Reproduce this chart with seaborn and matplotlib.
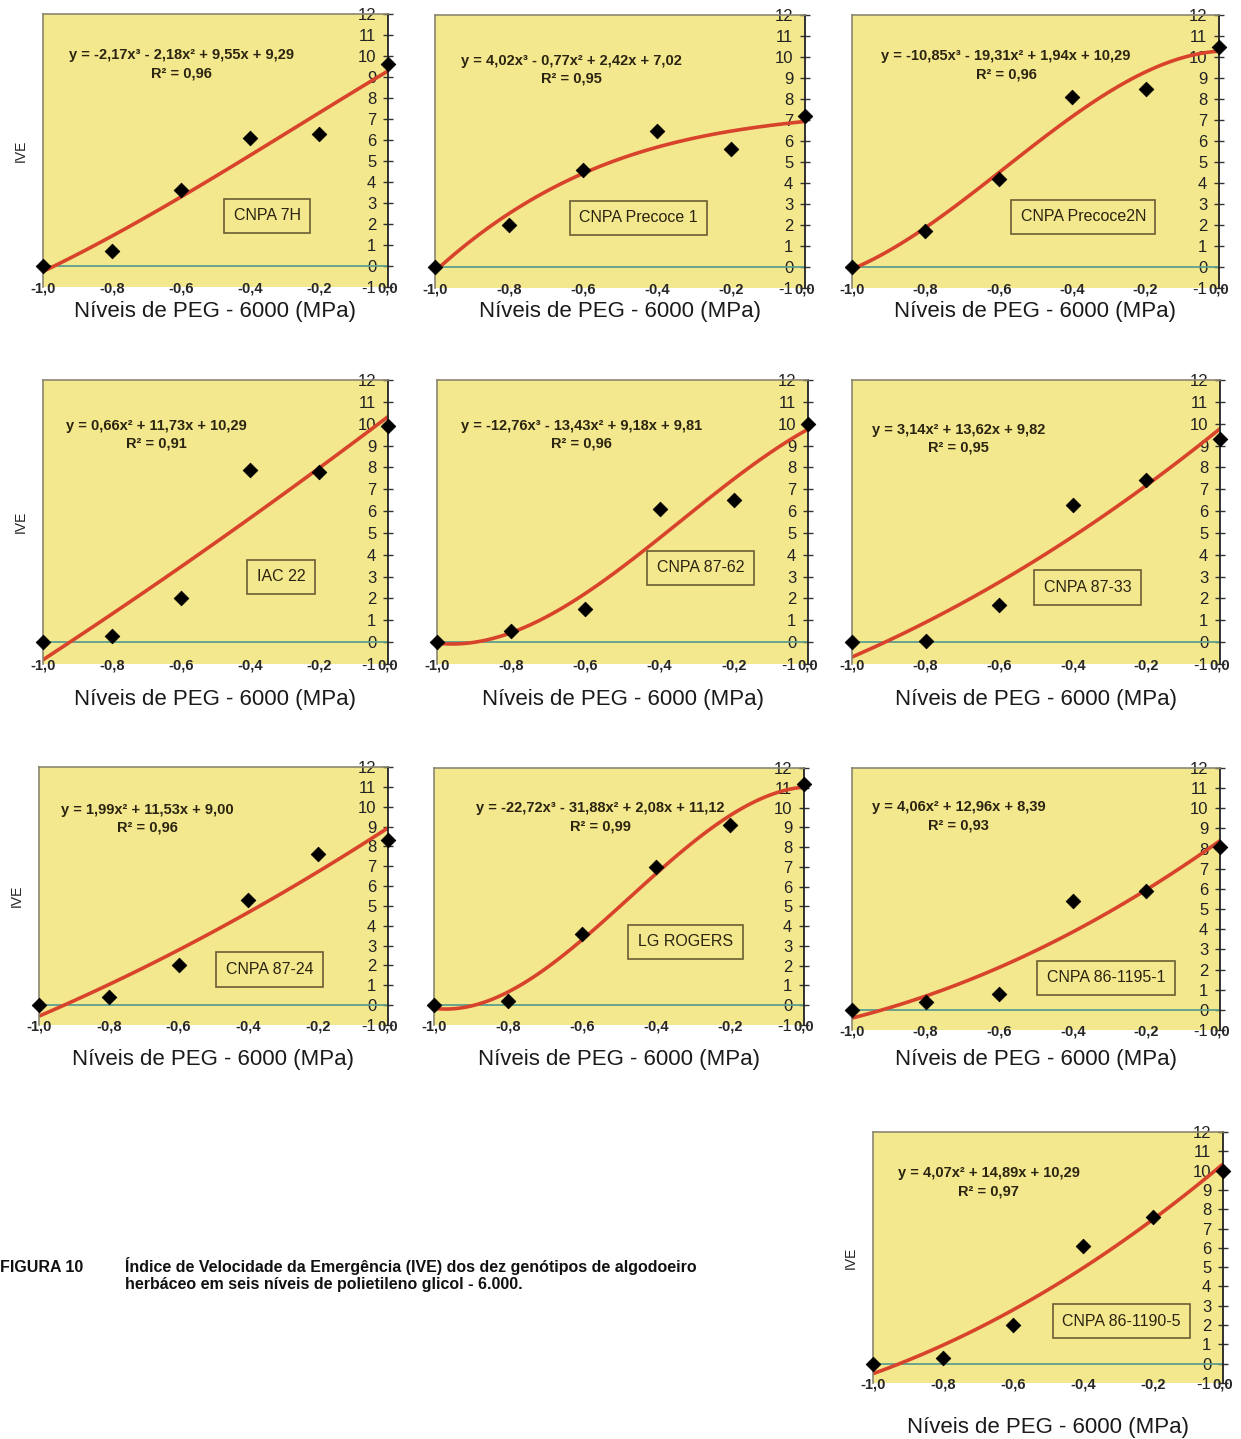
import numpy as np
import pandas as pd
import matplotlib
matplotlib.use("Agg")
import matplotlib.pyplot as plt
import seaborn as sns

sns.set_theme(style="white")
plt.rcParams['font.family'] = ['Liberation Sans', 'DejaVu Sans']

# ---------------- data ----------------
peg_levels = [-1.0, -0.8, -0.6, -0.4, -0.2, 0.0]
x_tick_labels = ["-1,0", "-0,8", "-0,6", "-0,4", "-0,2", "0,0"]
y_ticks = list(range(-1, 13))

genotypes = ["CNPA 7H", "CNPA Precoce 1", "CNPA Precoce2N", "IAC 22", "CNPA 87-62",
             "CNPA 87-33", "CNPA 87-24", "LG ROGERS", "CNPA 86-1195-1", "CNPA 86-1190-5"]

ive_cnpa_7h = [0.0, 0.7, 3.6, 6.1, 6.3, 9.6]
ive_precoce1 = [0.0, 2.0, 4.6, 6.5, 5.6, 7.2]
ive_precoce2n = [0.0, 1.7, 4.2, 8.1, 8.5, 10.5]
ive_iac22 = [0.0, 0.3, 2.0, 7.9, 7.8, 9.9]
ive_8762 = [0.0, 0.5, 1.5, 6.1, 6.5, 10.0]
ive_8733 = [0.0, 0.05, 1.7, 6.3, 7.4, 9.3]
ive_8724 = [0.0, 0.4, 2.0, 5.3, 7.6, 8.3]
ive_lgrogers = [0.0, 0.2, 3.6, 7.0, 9.1, 11.2]
ive_861195 = [0.0, 0.4, 0.8, 5.4, 5.9, 8.1]
ive_861190 = [0.0, 0.3, 2.0, 6.1, 7.6, 10.0]

ive_values = [ive_cnpa_7h, ive_precoce1, ive_precoce2n, ive_iac22, ive_8762,
              ive_8733, ive_8724, ive_lgrogers, ive_861195, ive_861190]

fit_orders = [3, 3, 3, 2, 3, 2, 2, 3, 2, 2]

equations = [
    "y = -2,17x³ - 2,18x² + 9,55x + 9,29",
    "y = 4,02x³ - 0,77x² + 2,42x + 7,02",
    "y = -10,85x³ - 19,31x² + 1,94x + 10,29",
    "y = 0,66x² + 11,73x + 10,29",
    "y = -12,76x³ - 13,43x² + 9,18x + 9,81",
    "y = 3,14x² + 13,62x + 9,82",
    "y = 1,99x² + 11,53x + 9,00",
    "y = -22,72x³ - 31,88x² + 2,08x + 11,12",
    "y = 4,06x² + 12,96x + 8,39",
    "y = 4,07x² + 14,89x + 10,29",
]
r_squared = ["0,96", "0,95", "0,96", "0,91", "0,96", "0,95", "0,96", "0,99", "0,93", "0,97"]

# ---------------- layout (pixels) ----------------
W, H = 1241, 1439
panel_px = [  # left, top, right, bottom
    (43, 14, 388, 287), (435, 15, 805, 288), (852, 15, 1219, 288),
    (43, 380, 388, 664), (437, 380, 808, 664), (852, 380, 1220, 664),
    (39, 767, 388, 1025), (434, 768, 804, 1025), (852, 768, 1220, 1030),
    (873, 1132, 1223, 1383),
]
xlabel_y = [312, 312, 312, 700, 700, 700, 1060, 1060, 1060, 1428]
eq_pos = [(-0.60, 9.6), (-0.63, 9.4), (-0.58, 9.6), (-0.67, 9.5), (-0.61, 9.5),
          (-0.71, 9.3), (-0.69, 9.4), (-0.55, 9.5), (-0.71, 9.6), (-0.67, 9.4)]
box_pos = [(-0.35, 2.4), (-0.45, 2.35), (-0.37, 2.4), (-0.31, 3.0), (-0.29, 3.4),
           (-0.36, 2.5), (-0.34, 1.8), (-0.32, 3.2), (-0.31, 1.6), (-0.29, 2.2)]
ive_label = [True, False, False, True, False, False, True, False, False, True]

bg = "#F4E88E"
red = "#D8432B"

fig = plt.figure(figsize=(W / 100, H / 100), dpi=100)
fig.patch.set_facecolor("white")

for i in range(10):
    l, t, r, b = panel_px[i]
    ax = fig.add_axes([l / W, 1 - b / H, (r - l) / W, (b - t) / H])
    ax.set_facecolor(bg)
    df = pd.DataFrame({"x": peg_levels, "y": ive_values[i]})

    ax.axhline(0, color="#5E9E8E", lw=1.3, zorder=1)
    sns.regplot(data=df, x="x", y="y", order=fit_orders[i], ci=None, scatter=False,
                truncate=True, line_kws=dict(color=red, lw=2.6, zorder=2), ax=ax)
    sns.scatterplot(data=df, x="x", y="y", marker="D", s=55, color="black",
                    edgecolor="black", zorder=4, ax=ax, legend=False, clip_on=False)

    ax.set_xlim(-1.0, 0.0)
    ax.set_ylim(-1, 12)
    ax.set_xticks(peg_levels)
    ax.set_xticklabels(x_tick_labels, fontsize=10.5, fontweight="bold")
    ax.tick_params(axis="x", length=0, pad=-4)
    ax.yaxis.tick_right()
    ax.set_yticks(y_ticks)
    ax.set_yticklabels([str(v) for v in y_ticks], fontsize=12)
    ax.tick_params(axis="y", direction="inout", length=7, width=1, color="#333333",
                   pad=-12, labelcolor="#222222")
    plt.setp(ax.get_yticklabels(), ha="right")
    ax.set_xlabel("")
    ax.set_ylabel("")

    for side in ["left", "top"]:
        ax.spines[side].set_color("#8a8670")
        ax.spines[side].set_linewidth(1.2)
    ax.spines["bottom"].set_visible(False)
    ax.spines["right"].set_color("#222222")
    ax.spines["right"].set_linewidth(1.3)

    ex, ey = eq_pos[i]
    ax.text(ex, ey, equations[i] + "\nR² = " + r_squared[i], ha="center", va="center",
            fontsize=10.5, fontweight="bold", color="#2a2410", linespacing=1.35)
    bx, by = box_pos[i]
    ax.text(bx, by, genotypes[i], ha="center", va="center", fontsize=11.5,
            color="#2a2410",
            bbox=dict(boxstyle="square,pad=0.6", facecolor=bg,
                      edgecolor="#6b5d35", linewidth=1.2))

    fig.text((l + r) / 2 / W, 1 - xlabel_y[i] / H, "Níveis de PEG - 6000 (MPa)",
             ha="center", va="center", fontsize=16, color="#1a1a1a")
    if ive_label[i]:
        fig.text((l - 22) / W, 1 - ((t + b) / 2) / H, "IVE", rotation=90,
                 ha="center", va="center", fontsize=10, color="#222222")

fig.text(0 / W, 1 - 1267 / H, "FIGURA 10", ha="left", va="center",
         fontsize=11.5, fontweight="bold", color="#111111")
fig.text(125 / W, 1 - 1266 / H,
         "Índice de Velocidade da Emergência (IVE) dos dez genótipos de algodoeiro",
         ha="left", va="center", fontsize=11.5, fontweight="bold", color="#111111")
fig.text(125 / W, 1 - 1284 / H,
         "herbáceo em seis níveis de polietileno glicol - 6.000.",
         ha="left", va="center", fontsize=11.5, fontweight="bold", color="#111111")

fig.savefig("out.png", dpi=100, facecolor="white")
